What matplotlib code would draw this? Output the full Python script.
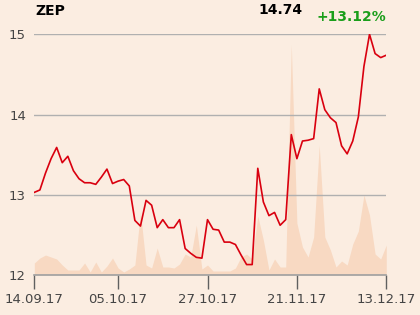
import numpy as np
import matplotlib
matplotlib.use("Agg")
import matplotlib.pyplot as plt

# closing prices, one per trading day (14.09.17 - 13.12.17)
price = [13.03, 13.06, 13.27, 13.45, 13.59, 13.40, 13.48, 13.30, 13.20, 13.15,
         13.15, 13.13, 13.22, 13.32, 13.14, 13.17, 13.19, 13.11, 12.68, 12.61,
         12.93, 12.87, 12.59, 12.69, 12.59, 12.59, 12.69, 12.33, 12.27, 12.22,
         12.21, 12.69, 12.57, 12.56, 12.41, 12.41, 12.38, 12.25, 12.13, 12.13,
         13.33, 12.91, 12.74, 12.78, 12.62, 12.69, 13.75, 13.45, 13.67, 13.68,
         13.70, 14.32, 14.06, 13.96, 13.90, 13.61, 13.51, 13.67, 13.97, 14.60,
         15.00, 14.76, 14.71, 14.74]

# traded volume (relative units)
volume = [12, 17, 20, 18, 16, 10, 5, 5, 5, 12,
          3, 13, 3, 9, 17, 7, 3, 6, 10, 63,
          10, 7, 27, 8, 8, 7, 11, 21, 18, 50,
          6, 10, 4, 4, 4, 4, 7, 18, 21, 16,
          59, 35, 5, 16, 8, 8, 231, 52, 28, 18,
          38, 130, 38, 25, 8, 14, 10, 31, 44, 80,
          60, 21, 16, 30]

tick_pos = [0, 15, 31, 47, 63]
tick_labels = ["14.09.17", "05.10.17", "27.10.17", "21.11.17", "13.12.17"]

bg = "#fbede1"
x = np.arange(len(price))

fig = plt.figure(figsize=(4.2, 3.15), dpi=100, facecolor=bg)
ax = fig.add_axes([0.0817, 0.127, 0.838, 0.764])
axv = ax.twinx()
ax.set_zorder(axv.get_zorder() + 1)
ax.patch.set_visible(False)
axv.set_facecolor(bg)

# volume in background
axv.fill_between(x, 0, volume, color="#f8d9c2", lw=0)
axv.set_ylim(0, 241)
axv.set_yticks([])
for s in axv.spines.values():
    s.set_visible(False)

ax.plot(x, price, color="#d9000f", lw=1.2, zorder=3)
ax.set_xlim(0, 63)
ax.set_ylim(12, 15)
ax.set_yticks([12, 13, 14, 15])
ax.grid(axis="y", color="#b0b0b0", lw=1)
for s in ["left", "right", "top"]:
    ax.spines[s].set_visible(False)
ax.spines["bottom"].set_color("#a0a0a0")
ax.spines["bottom"].set_linewidth(1.2)
ax.tick_params(axis="y", length=0, labelsize=9.5, labelcolor="#444444", pad=6)
ax.set_xticks(tick_pos)
ax.set_xticklabels(tick_labels)
ax.tick_params(axis="x", length=10, width=1, color="#606060", labelsize=9.5,
               labelcolor="#444444", pad=3)

fig.text(35 / 420, 1 - 11 / 315, "ZEP", fontsize=10, fontweight="bold",
         ha="left", va="center", color="black")
fig.text(303 / 420, 1 - 10 / 315, "14.74", fontsize=10, fontweight="bold",
         ha="right", va="center", color="black")
fig.text(386 / 420, 1 - 17 / 315, "+13.12%", fontsize=10, fontweight="bold",
         ha="right", va="center", color="#1a9e1a")

fig.savefig("out.png", dpi=100, facecolor=bg)
